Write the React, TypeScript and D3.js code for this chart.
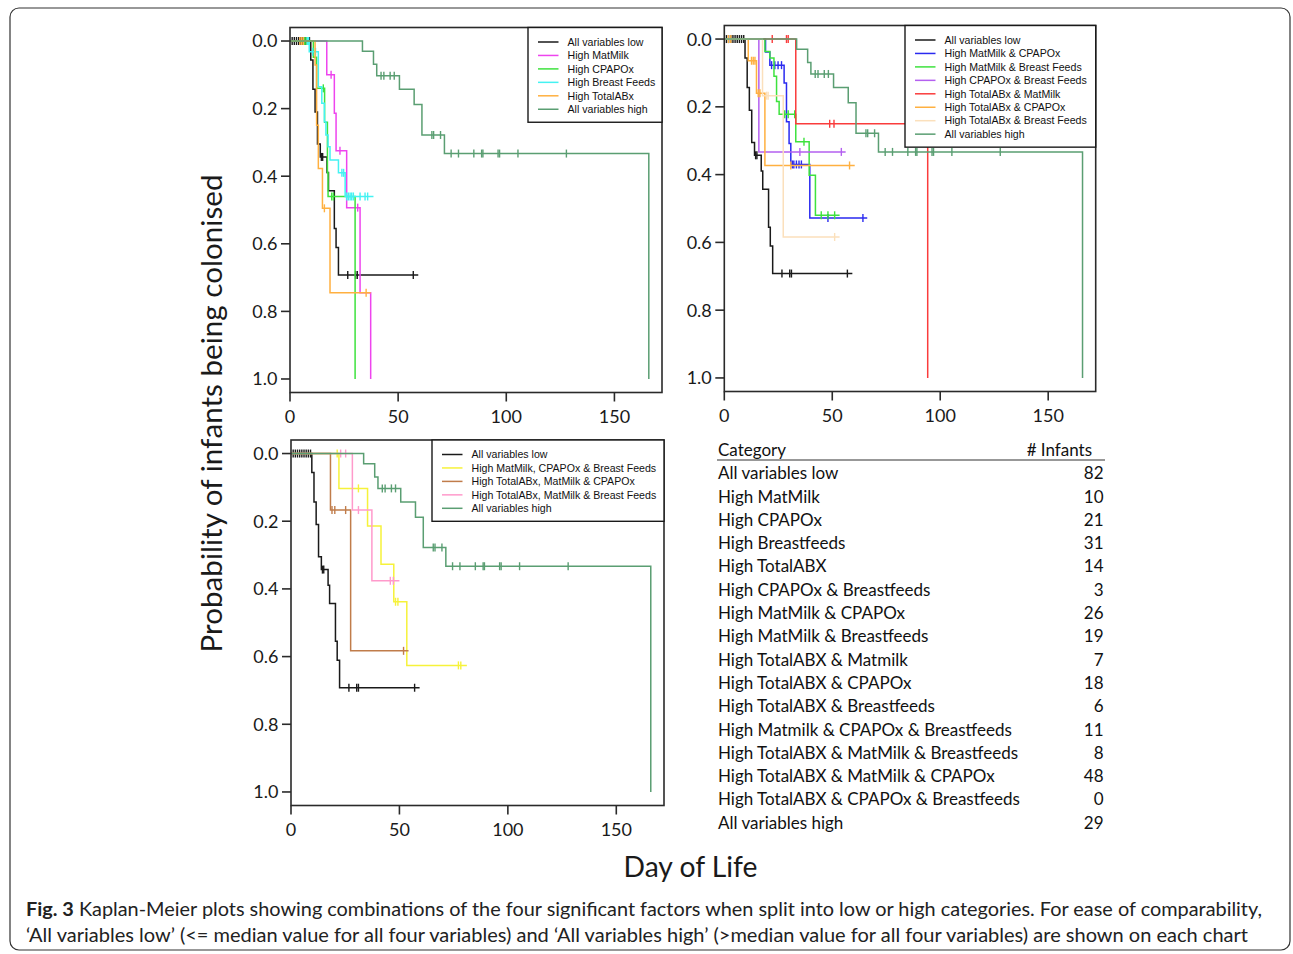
import React from 'react';
import * as d3 from 'd3';

// ---------- DATA ----------
// Each curve: event times (days), cumulative probability of colonisation after each event,
// censor times, and last follow-up day.

// All variables low (black) — same on every panel
const lowTimes = [9.6, 10.6, 11.6, 12.7, 14.0, 17.1, 17.8, 20.5, 21.3, 22.4];
const lowProbs = [0.056, 0.143, 0.21, 0.305, 0.343, 0.389, 0.443, 0.555, 0.611, 0.692];
const lowCensor = [1, 2, 3, 4, 5, 6, 7, 8, 9, 14.5, 15.1, 26.7, 30.3, 31.1, 57.0];
const lowEnd = 59.3;

// All variables high (sea green) — same on every panel
const highTimes = [33.5, 38.6, 40.1, 50.6, 57.4, 61.0, 71.4, 165.9];
const highProbs = [0.03, 0.069, 0.103, 0.143, 0.188, 0.278, 0.333, 1.0];
const highCensor = [42.1, 43.4, 46.3, 48.2, 65.6, 66.4, 69.6, 74.5, 77.9, 85.0, 88.6, 89.2, 96.2, 96.9, 105.4, 127.8];
const highEnd = 165.9;

// Panel 1
const matMilkTimes = [17.0, 20.5, 21.3, 26.2, 32.4, 37.3];
const matMilkProbs = [0.1, 0.214, 0.325, 0.493, 0.745, 1.0];
const matMilkCensor = [19.0, 23.1, 31.3];
const matMilkEnd = 37.3;

const cpapTimes = [10.8, 12.3, 16.0, 17.3, 17.6, 30.1];
const cpapProbs = [0.048, 0.14, 0.24, 0.39, 0.46, 1.0];
const cpapCensor = [6.6, 7.4, 15.4, 19.3, 20.1];
const cpapEnd = 30.1;

const breastTimes = [8.9, 13.1, 14.7, 15.9, 16.6, 17.6, 18.5, 22.4, 25.5];
const breastProbs = [0.032, 0.135, 0.184, 0.239, 0.278, 0.313, 0.352, 0.39, 0.46];
const breastCensor = [8.0, 8.6, 10.5, 11.8, 24.0, 24.8, 26.2, 27.0, 27.8, 28.5, 29.3, 32.4, 34.7, 35.9];
const breastEnd = 38.6;

const totalAbxTimes = [11.6, 12.3, 13.1, 15.0, 18.5];
const totalAbxProbs = [0.071, 0.249, 0.377, 0.495, 0.745];
const totalAbxCensor = [4.6, 5.4, 6.2, 15.9, 35.2];
const totalAbxEnd = 37.3;

// Panel 2
const mmCpTimes = [19.1, 21.1, 27.7, 28.8, 30.0, 30.8, 39.6];
const mmCpProbs = [0.038, 0.077, 0.13, 0.244, 0.308, 0.37, 0.528];
const mmCpCensor = [21.9, 23.4, 24.9, 26.5, 31.5, 32.2, 33.4, 34.6, 35.7, 48.0, 64.2];
const mmCpEnd = 66.2;

const mmBfTimes = [18.8, 21.1, 23.0, 24.2, 25.4, 33.1, 39.3, 42.2];
const mmBfProbs = [0.037, 0.056, 0.11, 0.184, 0.222, 0.303, 0.402, 0.52];
const mmBfCensor = [28.0, 29.6, 32.6, 36.9, 44.9, 48.0, 51.1];
const mmBfEnd = 53.4;

const cpBfTimes = [16.0];
const cpBfProbs = [0.333];
const cpBfCensor = [35.0, 54.2];
const cpBfEnd = 56.2;

const taMmTimes = [33.1, 94.2];
const taMmProbs = [0.25, 1.0];
const taMmCensor = [22.2, 28.8, 29.6, 48.8, 50.8];
const taMmEnd = 94.2;

const taCpTimes = [11.1, 14.9, 18.8];
const taCpProbs = [0.064, 0.16, 0.373];
const taCpCensor = [1.9, 3.0, 12.6, 13.4, 14.2, 15.7, 16.5, 30.8, 58.0];
const taCpEnd = 60.4;

const taBfTimes = [17.7, 27.3];
const taBfProbs = [0.167, 0.584];
const taBfCensor = [19.6, 20.3, 51.1];
const taBfEnd = 53.4;

// Panel 3
const mmCpBfTimes = [22.1, 35.3, 41.5, 47.4, 53.4];
const mmCpBfProbs = [0.103, 0.214, 0.327, 0.438, 0.626];
const mmCpBfCensor = [21.3, 31.1, 48.2, 49.3, 77.2, 78.3];
const mmCpBfEnd = 81.1;

const taMmCpTimes = [18.2, 27.5];
const taMmCpProbs = [0.167, 0.583];
const taMmCpCensor = [18.9, 20.2, 25.2, 51.9];
const taMmCpEnd = 54.2;

const taMmBfTimes = [28.3, 37.3];
const taMmBfProbs = [0.167, 0.376];
const taMmBfCensor = [22.9, 25.2, 31.1, 45.8, 47.2];
const taMmBfEnd = 50.0;

// Legend labels per panel
const panel1Labels = ['All variables low', 'High MatMilk', 'High CPAPOx', 'High Breast Feeds', 'High TotalABx', 'All variables high'];
const panel2Labels = ['All variables low', 'High MatMilk & CPAPOx', 'High MatMilk & Breast Feeds', 'High CPAPOx & Breast Feeds', 'High TotalABx & MatMilk', 'High TotalABx & CPAPOx', 'High TotalABx & Breast Feeds', 'All variables high'];
const panel3Labels = ['All variables low', 'High MatMilk, CPAPOx & Breast Feeds', 'High TotalABx, MatMilk & CPAPOx', 'High TotalABx, MatMilk & Breast Feeds', 'All variables high'];

// Axis ticks
const xTicks = [0, 50, 100, 150];
const yTicks = [0, 0.2, 0.4, 0.6, 0.8, 1.0];

// Table
const tableCategories = [
  'All variables low', 'High MatMilk', 'High CPAPOx', 'High Breastfeeds', 'High TotalABX',
  'High CPAPOx & Breastfeeds', 'High MatMilk & CPAPOx', 'High MatMilk & Breastfeeds',
  'High TotalABX & Matmilk', 'High TotalABX & CPAPOx', 'High TotalABX & Breastfeeds',
  'High Matmilk & CPAPOx & Breastfeeds', 'High TotalABX & MatMilk & Breastfeeds',
  'High TotalABX & MatMilk & CPAPOx', 'High TotalABX & CPAPOx & Breastfeeds', 'All variables high',
];
const tableInfants = [82, 10, 21, 31, 14, 3, 26, 19, 7, 18, 6, 11, 8, 48, 0, 29];

// ---------- STYLE / LAYOUT ----------
type Curve = { times: number[]; probs: number[]; censor: number[]; end: number; color: string };

const C = {
  black: '#1a1a1a',
  high: '#5a9e72',
  magenta: '#ee44ee',
  green: '#3ee23e',
  cyan: '#44f2f2',
  orange: '#ffb040',
  blue: '#2a2af0',
  purple: '#b460f0',
  red: '#fa3c3c',
  peach: '#fbe0bc',
  yellow: '#f6f23a',
  brown: '#c07c4a',
  pink: '#ff9acb',
};

const low: Curve = { times: lowTimes, probs: lowProbs, censor: lowCensor, end: lowEnd, color: C.black };
const high: Curve = { times: highTimes, probs: highProbs, censor: highCensor, end: highEnd, color: C.high };

const panels = [
  {
    left: 290, right: 662, top: 27.5, bottom: 392.5, legendLeft: 528,
    labels: panel1Labels,
    curves: [
      low,
      { times: matMilkTimes, probs: matMilkProbs, censor: matMilkCensor, end: matMilkEnd, color: C.magenta },
      { times: cpapTimes, probs: cpapProbs, censor: cpapCensor, end: cpapEnd, color: C.green },
      { times: breastTimes, probs: breastProbs, censor: breastCensor, end: breastEnd, color: C.cyan },
      { times: totalAbxTimes, probs: totalAbxProbs, censor: totalAbxCensor, end: totalAbxEnd, color: C.orange },
      high,
    ] as Curve[],
  },
  {
    left: 724.3, right: 1095.7, top: 25.5, bottom: 391.5, legendLeft: 905,
    labels: panel2Labels,
    curves: [
      low,
      { times: mmCpTimes, probs: mmCpProbs, censor: mmCpCensor, end: mmCpEnd, color: C.blue },
      { times: mmBfTimes, probs: mmBfProbs, censor: mmBfCensor, end: mmBfEnd, color: C.green },
      { times: cpBfTimes, probs: cpBfProbs, censor: cpBfCensor, end: cpBfEnd, color: C.purple },
      { times: taMmTimes, probs: taMmProbs, censor: taMmCensor, end: taMmEnd, color: C.red },
      { times: taCpTimes, probs: taCpProbs, censor: taCpCensor, end: taCpEnd, color: C.orange },
      { times: taBfTimes, probs: taBfProbs, censor: taBfCensor, end: taBfEnd, color: C.peach },
      high,
    ] as Curve[],
  },
  {
    left: 291, right: 664, top: 440, bottom: 805.5, legendLeft: 432,
    labels: panel3Labels,
    curves: [
      low,
      { times: mmCpBfTimes, probs: mmCpBfProbs, censor: mmCpBfCensor, end: mmCpBfEnd, color: C.yellow },
      { times: taMmCpTimes, probs: taMmCpProbs, censor: taMmCpCensor, end: taMmCpEnd, color: C.brown },
      { times: taMmBfTimes, probs: taMmBfProbs, censor: taMmBfCensor, end: taMmBfEnd, color: C.pink },
      high,
    ] as Curve[],
  },
];

const FONT = 'Lato, "Open Sans", sans-serif';
const LEG_FONT = '"Liberation Sans", Arial, sans-serif';

function valueAt(c: Curve, t: number) {
  let v = 0;
  for (let i = 0; i < c.times.length; i++) if (c.times[i] <= t) v = c.probs[i];
  return v;
}

function Panel({ p }: { p: (typeof panels)[number] }) {
  const x = d3.scaleLinear().domain([0, 172]).range([p.left, p.right]);
  const y = d3.scaleLinear().domain([-0.04, 1.04]).range([p.top, p.bottom]);
  const line = d3.line<[number, number]>().x((d) => x(d[0])).y((d) => y(d[1])).curve(d3.curveStepAfter);
  const legTop = p.top;
  const legH = 14.5 + (p.labels.length - 1) * 13.45 + 13;
  return (
    <g>
      {p.curves.map((c, i) => {
        const pts: [number, number][] = [[0, 0]];
        c.times.forEach((t, j) => pts.push([t, c.probs[j]]));
        const last = c.times[c.times.length - 1];
        if (c.end > last) pts.push([c.end, c.probs[c.probs.length - 1]]);
        return (
          <g key={i}>
            <path d={line(pts) || ''} fill="none" stroke={c.color} strokeWidth={1.5} />
            {c.censor.map((t, k) => {
              const v = valueAt(c, t);
              return (
                <line key={k} x1={x(t)} x2={x(t)} y1={y(v) - 4} y2={y(v) + 4} stroke={c.color} strokeWidth={1.4} />
              );
            })}
          </g>
        );
      })}
      {/* box */}
      <rect x={p.left} y={p.top} width={p.right - p.left} height={p.bottom - p.top} fill="none" stroke="#2a2a2a" strokeWidth={1.6} />
      {/* y ticks */}
      {yTicks.map((t) => (
        <g key={t}>
          <line x1={p.left - 9} x2={p.left} y1={y(t)} y2={y(t)} stroke="#2a2a2a" strokeWidth={1.6} />
          <text x={p.left - 12.5} y={y(t)} dy="0.36em" textAnchor="end" fontFamily={FONT} fontSize={18} fill="#1a1a1a">
            {t.toFixed(1)}
          </text>
        </g>
      ))}
      {/* x ticks */}
      {xTicks.map((t) => (
        <g key={t}>
          <line x1={x(t)} x2={x(t)} y1={p.bottom} y2={p.bottom + 9} stroke="#2a2a2a" strokeWidth={1.6} />
          <text x={x(t)} y={p.bottom + 30} textAnchor="middle" fontFamily={FONT} fontSize={18} fill="#1a1a1a">
            {t}
          </text>
        </g>
      ))}
      {/* legend */}
      <rect x={p.legendLeft} y={legTop} width={p.right - p.legendLeft} height={legH} fill="#fff" stroke="#1a1a1a" strokeWidth={1.4} />
      {p.labels.map((lab, i) => {
        const yy = legTop + 14.5 + i * 13.45;
        return (
          <g key={lab}>
            <line x1={p.legendLeft + 10} x2={p.legendLeft + 30.5} y1={yy} y2={yy} stroke={p.curves[i].color} strokeWidth={1.5} />
            <text x={p.legendLeft + 39.5} y={yy} dy="0.35em" fontFamily={LEG_FONT} fontSize={10.6} fill="#111">
              {lab}
            </text>
          </g>
        );
      })}
    </g>
  );
}

export default function App() {
  const rowY = d3.scaleLinear().domain([0, 1]).range([473.3, 496.6]);
  return (
    <svg width={1293} height={954} style={{ position: 'absolute', left: 0, top: 0, background: '#fff' }}>
      <rect x={0} y={0} width={1293} height={954} fill="#fff" />
      <rect x={10} y={8} width={1280} height={942} rx={9} fill="none" stroke="#333" strokeWidth={1.2} />
      {panels.map((p, i) => (
        <Panel key={i} p={p} />
      ))}
      {/* y axis title */}
      <text transform="translate(221.5,413.5) rotate(-90)" textAnchor="middle" fontFamily={FONT} fontSize={28} fill="#1a1a1a" textLength={478} lengthAdjust="spacingAndGlyphs">
        Probability of infants being colonised
      </text>
      {/* x axis title */}
      <text x={690.5} y={877} textAnchor="middle" fontFamily={FONT} fontSize={28} fill="#1a1a1a" textLength={134} lengthAdjust="spacingAndGlyphs">
        Day of Life
      </text>
      {/* table */}
      <text x={718} y={450} dy="0.35em" fontFamily={FONT} fontSize={17} fill="#111">Category</text>
      <text x={1092} y={450} dy="0.35em" textAnchor="end" fontFamily={FONT} fontSize={17} fill="#111"># Infants</text>
      <line x1={717} x2={1105} y1={460} y2={460} stroke="#333" strokeWidth={1.2} />
      {tableCategories.map((cat, i) => (
        <g key={cat}>
          <text x={718} y={rowY(i)} dy="0.35em" fontFamily={FONT} fontSize={17} fill="#111">{cat}</text>
          <text x={1103.5} y={rowY(i)} dy="0.35em" textAnchor="end" fontFamily={FONT} fontSize={17} fill="#111">{tableInfants[i]}</text>
        </g>
      ))}
      {/* caption */}
      <text x={26} y={915.5} fontFamily={FONT} fontSize={18.5} fill="#222" textLength={1236} lengthAdjust="spacingAndGlyphs">
        <tspan fontWeight="bold">Fig. 3</tspan> Kaplan-Meier plots showing combinations of the four significant factors when split into low or high categories. For ease of comparability,
      </text>
      <text x={26} y={941.5} fontFamily={FONT} fontSize={18.5} fill="#222" textLength={1222} lengthAdjust="spacingAndGlyphs">
        ‘All variables low’ (&lt;= median value for all four variables) and ‘All variables high’ (&gt;median value for all four variables) are shown on each chart
      </text>
    </svg>
  );
}
